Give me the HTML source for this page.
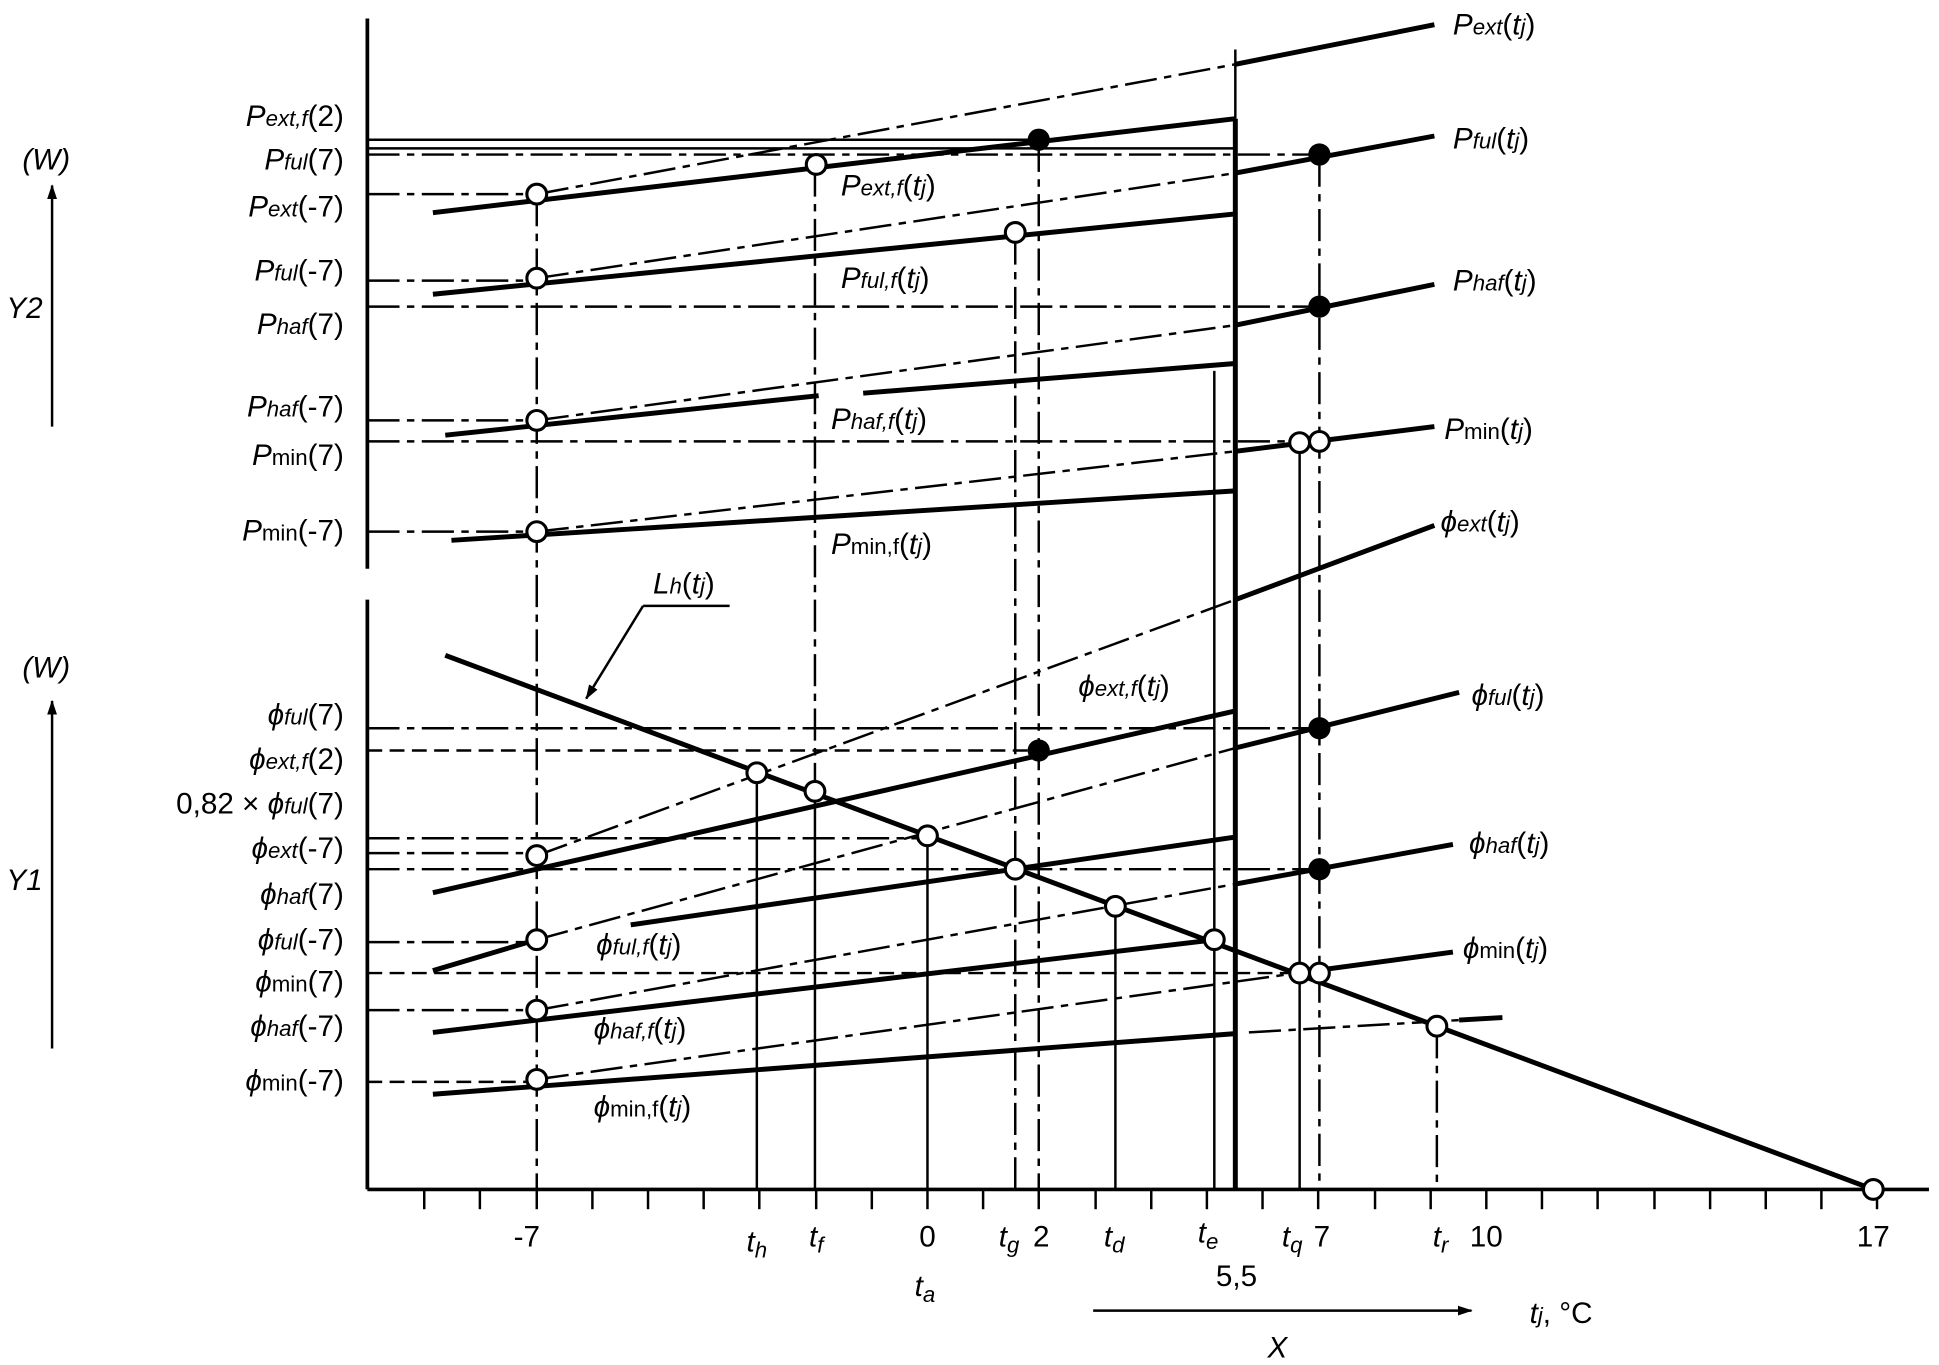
<!DOCTYPE html>
<html><head><meta charset="utf-8"><style>html,body{margin:0;padding:0;background:#fff}svg{display:block}</style></head>
<body>
<svg xmlns="http://www.w3.org/2000/svg" width="1939" height="1365" viewBox="0 0 1568 1104" font-family="Liberation Sans, sans-serif" font-size="24">
<rect width="1568" height="1104" fill="#fff"/>
<defs>
<marker id="ar" markerWidth="12" markerHeight="8" refX="11" refY="4" orient="auto" markerUnits="userSpaceOnUse"><path d="M0,0 L12,4 L0,8z" fill="#000"/></marker>
</defs>
<g stroke="#000" fill="none">
<line x1="297" y1="15" x2="297" y2="460" stroke-width="3"/>
<line x1="297" y1="485" x2="297" y2="962" stroke-width="3"/>
<line x1="297" y1="962" x2="1560" y2="962" stroke-width="3"/>
<g stroke-width="2">
<line x1="343" y1="962" x2="343" y2="978"/><line x1="388" y1="962" x2="388" y2="978"/><line x1="434" y1="962" x2="434" y2="978"/><line x1="479" y1="962" x2="479" y2="978"/><line x1="524" y1="962" x2="524" y2="978"/><line x1="569" y1="962" x2="569" y2="978"/><line x1="614" y1="962" x2="614" y2="978"/><line x1="660" y1="962" x2="660" y2="978"/><line x1="705" y1="962" x2="705" y2="978"/><line x1="750" y1="962" x2="750" y2="978"/><line x1="795" y1="962" x2="795" y2="978"/><line x1="840" y1="962" x2="840" y2="978"/><line x1="886" y1="962" x2="886" y2="978"/><line x1="931" y1="962" x2="931" y2="978"/><line x1="976" y1="962" x2="976" y2="978"/><line x1="1021" y1="962" x2="1021" y2="978"/><line x1="1066" y1="962" x2="1066" y2="978"/><line x1="1112" y1="962" x2="1112" y2="978"/><line x1="1157" y1="962" x2="1157" y2="978"/><line x1="1202" y1="962" x2="1202" y2="978"/><line x1="1247" y1="962" x2="1247" y2="978"/><line x1="1292" y1="962" x2="1292" y2="978"/><line x1="1338" y1="962" x2="1338" y2="978"/><line x1="1383" y1="962" x2="1383" y2="978"/><line x1="1428" y1="962" x2="1428" y2="978"/><line x1="1473" y1="962" x2="1473" y2="978"/><line x1="1518" y1="962" x2="1518" y2="978"/>
</g>
<line x1="42" y1="345" x2="42" y2="150" stroke-width="2" marker-end="url(#ar)"/>
<line x1="42" y1="848" x2="42" y2="567" stroke-width="2" marker-end="url(#ar)"/>
<line x1="884" y1="1060" x2="1190" y2="1060" stroke-width="2" marker-end="url(#ar)"/>
<g stroke-width="2" stroke-dasharray="26,6,6,6">
<line x1="297" y1="125" x2="1067" y2="125"/>
<line x1="297" y1="248" x2="1067" y2="248"/>
<line x1="297" y1="357" x2="1051" y2="357"/>
<line x1="297" y1="157" x2="434" y2="157"/>
<line x1="297" y1="227" x2="434" y2="227"/>
<line x1="297" y1="340" x2="434" y2="340"/>
<line x1="297" y1="430" x2="434" y2="430"/>
<line x1="297" y1="589" x2="1067" y2="589"/>
<line x1="297" y1="678" x2="750" y2="678"/>
<line x1="297" y1="690" x2="434" y2="690"/>
<line x1="297" y1="703" x2="1067" y2="703"/>
<line x1="297" y1="762" x2="434" y2="762"/>
<line x1="297" y1="817" x2="434" y2="817"/>
<line x1="434" y1="157" x2="434" y2="962"/>
<line x1="659" y1="133" x2="659" y2="640"/>
<line x1="821" y1="188" x2="821" y2="962"/>
<line x1="840" y1="113" x2="840" y2="962"/>
<line x1="1067" y1="125" x2="1067" y2="962"/>
<line x1="1162" y1="830" x2="1162" y2="962"/>
<line x1="434" y1="157" x2="999" y2="52"/>
<line x1="434" y1="225" x2="999" y2="140"/>
<line x1="434" y1="340" x2="999" y2="263"/>
<line x1="434" y1="430" x2="999" y2="365"/>
<line x1="434" y1="692" x2="999" y2="485"/>
<line x1="434" y1="760" x2="999" y2="605"/>
<line x1="434" y1="817" x2="999" y2="715"/>
<line x1="434" y1="873" x2="1049" y2="787"/>
<line x1="1010" y1="835" x2="1215" y2="823"/>
</g>
<g stroke-width="2">
<line x1="297" y1="113" x2="840" y2="113"/>
<line x1="297" y1="120" x2="999" y2="120"/>
<line x1="659" y1="640" x2="659" y2="962"/>
<line x1="612" y1="625" x2="612" y2="962"/>
<line x1="750" y1="676" x2="750" y2="962"/>
<line x1="902" y1="733" x2="902" y2="962"/>
<line x1="982" y1="300" x2="982" y2="962"/>
<line x1="1051" y1="358" x2="1051" y2="962"/>
<line x1="999" y1="40" x2="999" y2="96"/>
<line x1="590" y1="490" x2="520" y2="490"/>
<line x1="520" y1="490" x2="474" y2="565" marker-end="url(#ar)"/>
</g>
<g stroke-width="2" stroke-dasharray="12,6">
<line x1="297" y1="607" x2="840" y2="607"/>
<line x1="297" y1="787" x2="1051" y2="787"/>
<line x1="297" y1="875" x2="434" y2="875"/>
</g>
<g stroke-width="4">
<line x1="999" y1="96" x2="999" y2="962"/>
<line x1="999" y1="52" x2="1160" y2="20"/>
<line x1="350" y1="172" x2="999" y2="96"/>
<line x1="999" y1="140" x2="1160" y2="110"/>
<line x1="350" y1="238" x2="999" y2="173"/>
<line x1="999" y1="263" x2="1160" y2="230"/>
<line x1="360" y1="352" x2="662" y2="320"/>
<line x1="698" y1="318" x2="999" y2="294"/>
<line x1="999" y1="365" x2="1160" y2="345"/>
<line x1="365" y1="437" x2="999" y2="397"/>
<line x1="360" y1="530" x2="1515" y2="962"/>
<line x1="999" y1="485" x2="1160" y2="425"/>
<line x1="350" y1="722" x2="999" y2="575"/>
<line x1="999" y1="605" x2="1180" y2="560"/>
<line x1="350" y1="785" x2="434" y2="760"/>
<line x1="510" y1="748" x2="999" y2="677"/>
<line x1="999" y1="715" x2="1175" y2="683"/>
<line x1="350" y1="835" x2="983" y2="760"/>
<line x1="1049" y1="787" x2="1175" y2="770"/>
<line x1="350" y1="885" x2="999" y2="836"/>
<line x1="1180" y1="825" x2="1215" y2="823"/>
</g>
<g stroke-width="2.5" fill="#fff">
<circle cx="434" cy="157" r="8"/><circle cx="660" cy="133" r="8"/><circle cx="434" cy="225" r="8"/><circle cx="821" cy="188" r="8"/>
<circle cx="434" cy="340" r="8"/><circle cx="434" cy="430" r="8"/><circle cx="1051" cy="358" r="8"/><circle cx="1067" cy="357" r="8"/>
<circle cx="434" cy="692" r="8"/><circle cx="434" cy="760" r="8"/><circle cx="434" cy="817" r="8"/><circle cx="434" cy="873" r="8"/>
<circle cx="612" cy="625" r="8"/><circle cx="659" cy="640" r="8"/><circle cx="750" cy="676" r="8"/><circle cx="821" cy="703" r="8"/>
<circle cx="902" cy="733" r="8"/><circle cx="982" cy="760" r="8"/><circle cx="1051" cy="787" r="8"/><circle cx="1067" cy="787" r="8"/>
<circle cx="1162" cy="830" r="8"/><circle cx="1515" cy="962" r="8"/>
</g>
<g fill="#000" stroke="none">
<circle cx="840" cy="113" r="9"/><circle cx="1067" cy="125" r="9"/><circle cx="1067" cy="248" r="9"/>
<circle cx="840" cy="607" r="9"/><circle cx="1067" cy="589" r="9"/><circle cx="1067" cy="703" r="9"/>
</g>
</g>
<g fill="#000" font-size="24">
<g text-anchor="end" font-style="italic">
<text x="278" y="102">P<tspan font-size="18">ext,f</tspan><tspan font-style="normal">(2)</tspan></text>
<text x="278" y="137">P<tspan font-size="18">ful</tspan><tspan font-style="normal">(7)</tspan></text>
<text x="278" y="175">P<tspan font-size="18">ext</tspan><tspan font-style="normal">(-7)</tspan></text>
<text x="278" y="227">P<tspan font-size="18">ful</tspan><tspan font-style="normal">(-7)</tspan></text>
<text x="278" y="270">P<tspan font-size="18">haf</tspan><tspan font-style="normal">(7)</tspan></text>
<text x="278" y="337">P<tspan font-size="18">haf</tspan><tspan font-style="normal">(-7)</tspan></text>
<text x="278" y="376">P<tspan font-size="18" font-style="normal">min</tspan><tspan font-style="normal">(7)</tspan></text>
<text x="278" y="437">P<tspan font-size="18" font-style="normal">min</tspan><tspan font-style="normal">(-7)</tspan></text>
<text x="278" y="586">ϕ<tspan font-size="18">ful</tspan><tspan font-style="normal">(7)</tspan></text>
<text x="278" y="622">ϕ<tspan font-size="18">ext,f</tspan><tspan font-style="normal">(2)</tspan></text>
<text x="278" y="658"><tspan font-style="normal">0,82 × </tspan>ϕ<tspan font-size="18">ful</tspan><tspan font-style="normal">(7)</tspan></text>
<text x="278" y="694">ϕ<tspan font-size="18">ext</tspan><tspan font-style="normal">(-7)</tspan></text>
<text x="278" y="731">ϕ<tspan font-size="18">haf</tspan><tspan font-style="normal">(7)</tspan></text>
<text x="278" y="768">ϕ<tspan font-size="18">ful</tspan><tspan font-style="normal">(-7)</tspan></text>
<text x="278" y="802">ϕ<tspan font-size="18" font-style="normal">min</tspan><tspan font-style="normal">(7)</tspan></text>
<text x="278" y="838">ϕ<tspan font-size="18">haf</tspan><tspan font-style="normal">(-7)</tspan></text>
<text x="278" y="882">ϕ<tspan font-size="18" font-style="normal">min</tspan><tspan font-style="normal">(-7)</tspan></text>
</g>
<g font-style="italic">
<text x="1175" y="28">P<tspan font-size="18">ext</tspan><tspan font-style="normal">(</tspan>t<tspan font-size="18">j</tspan><tspan font-style="normal">)</tspan></text>
<text x="1175" y="120">P<tspan font-size="18">ful</tspan><tspan font-style="normal">(</tspan>t<tspan font-size="18">j</tspan><tspan font-style="normal">)</tspan></text>
<text x="1175" y="235">P<tspan font-size="18">haf</tspan><tspan font-style="normal">(</tspan>t<tspan font-size="18">j</tspan><tspan font-style="normal">)</tspan></text>
<text x="1168" y="355">P<tspan font-size="18" font-style="normal">min</tspan><tspan font-style="normal">(</tspan>t<tspan font-size="18">j</tspan><tspan font-style="normal">)</tspan></text>
<text x="680" y="158">P<tspan font-size="18">ext,f</tspan><tspan font-style="normal">(</tspan>t<tspan font-size="18">j</tspan><tspan font-style="normal">)</tspan></text>
<text x="680" y="233">P<tspan font-size="18">ful,f</tspan><tspan font-style="normal">(</tspan>t<tspan font-size="18">j</tspan><tspan font-style="normal">)</tspan></text>
<text x="672" y="347">P<tspan font-size="18">haf,f</tspan><tspan font-style="normal">(</tspan>t<tspan font-size="18">j</tspan><tspan font-style="normal">)</tspan></text>
<text x="672" y="448">P<tspan font-size="18" font-style="normal">min,f</tspan><tspan font-style="normal">(</tspan>t<tspan font-size="18">j</tspan><tspan font-style="normal">)</tspan></text>
<text x="1165" y="430">ϕ<tspan font-size="18">ext</tspan><tspan font-style="normal">(</tspan>t<tspan font-size="18">j</tspan><tspan font-style="normal">)</tspan></text>
<text x="1190" y="570">ϕ<tspan font-size="18">ful</tspan><tspan font-style="normal">(</tspan>t<tspan font-size="18">j</tspan><tspan font-style="normal">)</tspan></text>
<text x="1188" y="690">ϕ<tspan font-size="18">haf</tspan><tspan font-style="normal">(</tspan>t<tspan font-size="18">j</tspan><tspan font-style="normal">)</tspan></text>
<text x="1183" y="775">ϕ<tspan font-size="18" font-style="normal">min</tspan><tspan font-style="normal">(</tspan>t<tspan font-size="18">j</tspan><tspan font-style="normal">)</tspan></text>
<text x="872" y="563">ϕ<tspan font-size="18">ext,f</tspan><tspan font-style="normal">(</tspan>t<tspan font-size="18">j</tspan><tspan font-style="normal">)</tspan></text>
<text x="482" y="772">ϕ<tspan font-size="18">ful,f</tspan><tspan font-style="normal">(</tspan>t<tspan font-size="18">j</tspan><tspan font-style="normal">)</tspan></text>
<text x="480" y="840">ϕ<tspan font-size="18">haf,f</tspan><tspan font-style="normal">(</tspan>t<tspan font-size="18">j</tspan><tspan font-style="normal">)</tspan></text>
<text x="480" y="903">ϕ<tspan font-size="18" font-style="normal">min,f</tspan><tspan font-style="normal">(</tspan>t<tspan font-size="18">j</tspan><tspan font-style="normal">)</tspan></text>
<text x="528" y="480">L<tspan font-size="18">h</tspan><tspan font-style="normal">(</tspan>t<tspan font-size="18">j</tspan><tspan font-style="normal">)</tspan></text>
<text x="18" y="137">(W)</text><text x="5" y="257">Y2</text>
<text x="18" y="548">(W)</text><text x="5" y="720">Y1</text>
<text x="1025" y="1098">X</text>
<text x="1237" y="1070">t<tspan font-size="18">j</tspan><tspan font-style="normal">, °C</tspan></text>
</g>
<g text-anchor="middle">
<text x="426" y="1008">-7</text><text x="750" y="1008">0</text><text x="842" y="1008">2</text><text x="1069" y="1008">7</text><text x="1202" y="1008">10</text><text x="1515" y="1008">17</text>
<text x="1000" y="1040">5,5</text>
<g font-style="italic">
<text x="612" y="1012">t<tspan font-size="18" dy="5">h</tspan></text>
<text x="660" y="1008">t<tspan font-size="18" dy="5">f</tspan></text>
<text x="748" y="1048">t<tspan font-size="18" dy="5">a</tspan></text>
<text x="816" y="1008">t<tspan font-size="18" dy="5">g</tspan></text>
<text x="901" y="1008">t<tspan font-size="18" dy="5">d</tspan></text>
<text x="977" y="1005">t<tspan font-size="18" dy="5">e</tspan></text>
<text x="1045" y="1008">t<tspan font-size="18" dy="5">q</tspan></text>
<text x="1165" y="1008">t<tspan font-size="18" dy="5">r</tspan></text>
</g></g>
</g>
</svg>
</body></html>
